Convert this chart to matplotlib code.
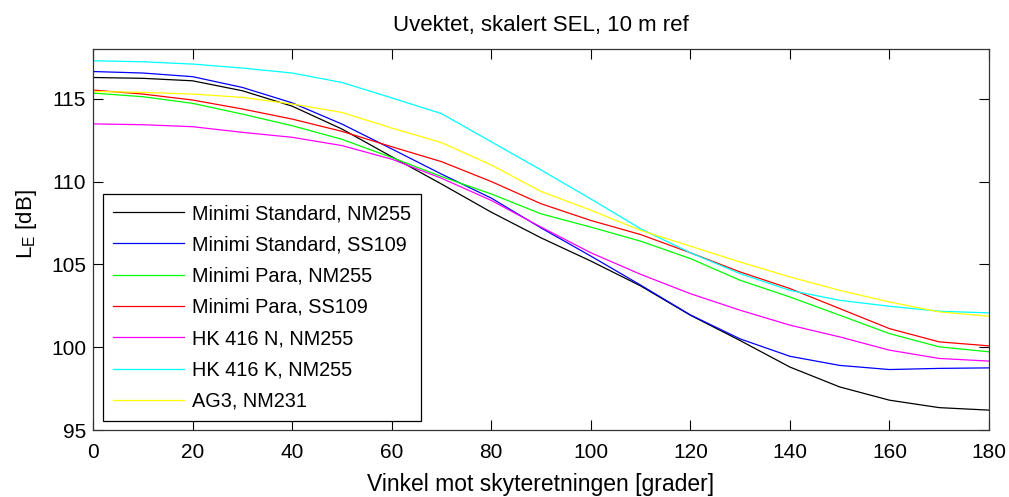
import numpy as np
import matplotlib
matplotlib.use("Agg")
import matplotlib.pyplot as plt

plt.rcParams['font.family'] = ['Liberation Sans', 'DejaVu Sans']
plt.rcParams['mathtext.fontset'] = 'custom'
plt.rcParams['mathtext.rm'] = 'Liberation Sans'

# Vinkel mot skyteretningen [grader]
vinkel = [0, 10, 20, 30, 40, 50, 60, 70, 80, 90, 100, 110, 120, 130, 140, 150, 160, 170, 180]

# Uvektet, skalert SEL [dB] for hvert vapen/ammunisjon
minimi_std_nm255 = [116.28, 116.23, 116.08, 115.48, 114.55, 113.17, 111.50, 109.85, 108.15, 106.60,
                    105.20, 103.70, 101.93, 100.40, 98.80, 97.60, 96.80, 96.35, 96.20]
minimi_std_ss109 = [116.64, 116.55, 116.33, 115.68, 114.75, 113.47, 111.97, 110.45, 109.00, 107.20,
                    105.50, 103.75, 101.95, 100.50, 99.45, 98.90, 98.65, 98.72, 98.75]
minimi_para_nm255 = [115.34, 115.12, 114.72, 114.07, 113.37, 112.55, 111.45, 110.30, 109.25, 108.05,
                     107.25, 106.40, 105.35, 104.04, 103.03, 101.93, 100.82, 100.02, 99.72]
minimi_para_ss109 = [115.52, 115.28, 114.92, 114.38, 113.77, 113.03, 112.10, 111.20, 110.00, 108.66,
                     107.65, 106.80, 105.70, 104.54, 103.54, 102.33, 101.12, 100.32, 100.08]
hk416n_nm255 = [113.48, 113.43, 113.31, 112.97, 112.67, 112.17, 111.35, 110.20, 108.86, 107.25,
                105.70, 104.40, 103.23, 102.23, 101.33, 100.62, 99.82, 99.32, 99.16]
hk416k_nm255 = [117.29, 117.23, 117.09, 116.85, 116.55, 115.98, 115.05, 114.10, 112.40, 110.70,
                108.95, 107.15, 105.70, 104.44, 103.43, 102.83, 102.47, 102.17, 102.07]
ag3_nm231 = [115.44, 115.38, 115.28, 115.08, 114.68, 114.17, 113.23, 112.35, 111.00, 109.40,
             108.27, 107.05, 106.10, 105.14, 104.24, 103.43, 102.73, 102.13, 101.87]

serier = [
    ("Minimi Standard, NM255", minimi_std_nm255, "#000000"),
    ("Minimi Standard, SS109", minimi_std_ss109, "#0000ff"),
    ("Minimi Para, NM255", minimi_para_nm255, "#00ff00"),
    ("Minimi Para, SS109", minimi_para_ss109, "#ff0000"),
    ("HK 416 N, NM255", hk416n_nm255, "#ff00ff"),
    ("HK 416 K, NM255", hk416k_nm255, "#00ffff"),
    ("AG3, NM231", ag3_nm231, "#ffff00"),
]

fig = plt.figure(figsize=(10.09, 4.97), dpi=100)
ax = fig.add_axes([0.0922, 0.1348, 0.888, 0.7666])

for navn, verdier, farge in serier:
    ax.plot(vinkel, verdier, color=farge, lw=0.9, label=navn)

ax.set_xlim(0, 180)
ax.set_ylim(95, 118)
ax.set_xticks(np.arange(0, 181, 20))
ax.set_yticks([95, 100, 105, 110, 115])
ax.tick_params(direction='in', length=7, top=True, right=True, labelsize=15, width=0.8)
ax.tick_params(axis='x', pad=9)
ax.tick_params(axis='y', pad=5)
for sp in ax.spines.values():
    sp.set_linewidth(0.9)
    sp.set_color('#333333')

ax.set_title("Uvektet, skalert SEL, 10 m ref", fontsize=16, pad=13)
ax.set_xlabel("Vinkel mot skyteretningen [grader]", fontsize=16.5, labelpad=8)
ax.set_ylabel(r"L$_\mathregular{E}$ [dB]", fontsize=16)
ax.yaxis.set_label_coords(-0.06, 0.54)

leg = ax.legend(loc='lower left', bbox_to_anchor=(0.011, 0.024), fontsize=14.3,
                handlelength=3.6, handletextpad=0.4, labelspacing=0.62, borderpad=0.5,
                fancybox=False, framealpha=1, edgecolor='k', borderaxespad=0)
leg.get_frame().set_linewidth(0.9)

fig.savefig("out.png", dpi=100)
